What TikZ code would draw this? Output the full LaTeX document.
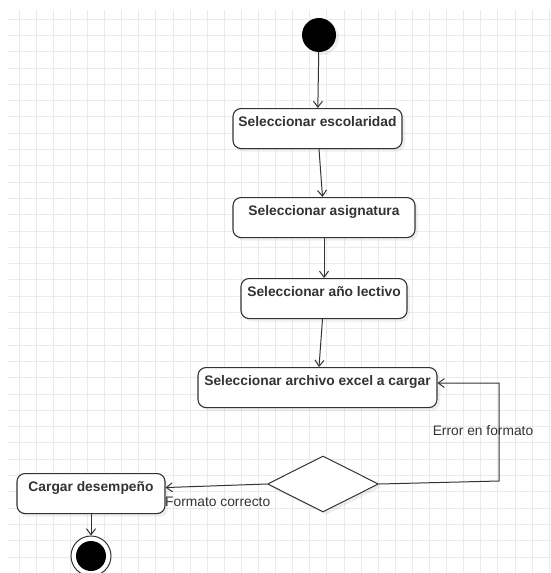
\documentclass[tikz,border=0pt]{standalone}
\usepackage{fontspec}
\setmainfont{Liberation Sans}
\usetikzlibrary{arrows.meta, shapes.geometric, shadows}
\definecolor{ink}{HTML}{333333}
\definecolor{gridgray}{HTML}{EAEAEA}

\begin{document}
\begin{tikzpicture}[
x=1pt, y=-1pt,
gridline/.style={draw=gridgray, line width=0.8pt},
softshadow/.style={drop shadow={shadow xshift=3pt, shadow yshift=-3pt, opacity=0.12}},
act/.style={rectangle, rounded corners=8pt, draw=ink, line width=1.1pt, fill=white, softshadow, inner xsep=0pt, inner ysep=0pt, text height=18pt, text depth=22pt, anchor=north, text=ink, font=\fontsize{13.8}{16}\selectfont\bfseries},
choice/.style={diamond, draw=ink, line width=1pt, fill=white, softshadow, minimum width=111pt, minimum height=56pt, inner sep=0pt},
start/.style={circle, fill=black, minimum size=34pt, inner sep=0pt, softshadow},
stop/.style={circle, draw=ink, line width=1pt, fill=white, minimum size=40pt, inner sep=0pt, path picture={\fill[black] (path picture bounding box.center) circle[radius=15pt];}},
lbl/.style={inner sep=0pt, text=ink, font=\fontsize{13.8}{16}\selectfont},
line/.style={-{Straight Barb[length=6pt, width=9pt]}, draw=ink, line width=1pt}
]
\useasboundingbox[fill=white] (0,0) rectangle (551,573);
\foreach \gx in {19,36.1,...,551} \draw[gridline] (\gx,10) -- (\gx,573);
\foreach \gy in {19,35.3,...,573} \draw[gridline] (8,\gy) -- (551,\gy);

\node[start] (ini) at (319,35) {};
\node[act, minimum width=169pt] (esc) at (317.5,108) {Seleccionar escolaridad};
\node[act, minimum width=182pt] (asig) at (324,197) {Seleccionar asignatura};
\node[act, minimum width=166pt] (anio) at (324,278) {Seleccionar año lectivo};
\node[act, minimum width=239pt] (arch) at (317.5,367) {Seleccionar archivo excel a cargar};
\node[choice] (dec) at (323,484) {};
\node[act, minimum width=148pt] (carg) at (91,473) {Cargar desempeño};
\node[stop] (fin) at (91,556) {};
\coordinate (vuelta) at (499,481);

\node[lbl] (err) at (483,431) {Error en formato};
\node[lbl, anchor=west] (ok) at (165,502) {Formato correcto};

\draw[line] (ini) -- (esc);
\draw[line] (esc) -- (asig);
\draw[line] (asig) -- (anio);
\draw[line] (anio) -- (arch);
\draw[line] (dec.east) -- (vuelta) |- ([yshift=4.5pt]arch.east);
\draw[line] (dec.west) -- ([yshift=6pt]carg.east);
\draw[line] (carg) -- (fin);
\end{tikzpicture}
\end{document}
